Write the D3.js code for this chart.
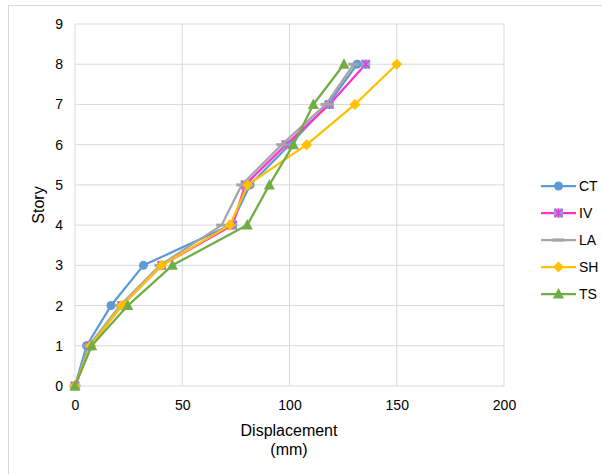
<!DOCTYPE html>
<html><head><meta charset="utf-8">
<script src="https://cdn.jsdelivr.net/npm/d3@7"></script>
<style>body{margin:0;background:#fff;font-family:Arial,"Liberation Sans",sans-serif;}</style>
</head><body><svg id="c" width="602" height="474"></svg>
<script>
const stories = [0,1,2,3,4,5,6,7,8];
const CT = [0,5.4,16.8,31.9,72.6,81.6,100,118,131.5];
const IV = [0,7,21.8,40.4,73.5,79.3,98.4,118.6,135.5];
const LA = [0,6.5,21,39.6,68.4,77.7,96.4,117,130];
const SH = [0,7.3,21.8,40.4,72.3,80.5,108,130.5,150];
const TS = [0,7.8,24.6,45.4,80.3,90.6,101.8,111.1,125.4];
const xTicks = [0,50,100,150,200];
const yTicks = [0,1,2,3,4,5,6,7,8,9];
const seriesNames = ["CT","IV","LA","SH","TS"];
const seriesColors = ["#5B9BD5","#FF33CC","#A5A5A5","#FFC000","#70AD47"];
const seriesData = [CT,IV,LA,SH,TS];

const svg = d3.select("#c");
const L=75,R=504,T=24,B=386;
const x = d3.scaleLinear().domain([0,200]).range([L,R]);
const y = d3.scaleLinear().domain([0,9]).range([B,T]);
const FONT = "Arial,'Liberation Sans',sans-serif";

svg.append("rect").attr("x",8.5).attr("y",5.5).attr("width",620).attr("height",500)
  .attr("fill","none").attr("stroke","#d9d9d9");

svg.append("g").selectAll("line").data(yTicks).join("line")
  .attr("x1",L).attr("x2",R).attr("y1",d=>y(d)).attr("y2",d=>y(d))
  .attr("stroke","#d9d9d9").attr("stroke-width",1);
svg.append("g").selectAll("line").data(xTicks).join("line")
  .attr("y1",T).attr("y2",B).attr("x1",d=>x(d)).attr("x2",d=>x(d))
  .attr("stroke","#d9d9d9").attr("stroke-width",1);

const xa = d3.axisBottom(x).tickValues(xTicks).tickSize(0).tickPadding(14);
svg.append("g").attr("transform",`translate(0,${B})`).call(xa)
  .call(g=>g.select(".domain").remove())
  .selectAll("text").attr("font-size","14px").attr("fill","#000").attr("font-family",FONT);
const ya = d3.axisLeft(y).tickValues(yTicks).tickSize(0).tickPadding(12);
svg.append("g").attr("transform",`translate(${L},0)`).call(ya)
  .call(g=>g.select(".domain").remove())
  .selectAll("text").attr("font-size","14px").attr("fill","#000").attr("font-family",FONT);

svg.append("text").attr("x",289).attr("y",436).attr("text-anchor","middle")
  .attr("font-size","16px").text("Displacement");
svg.append("text").attr("x",289).attr("y",455).attr("text-anchor","middle")
  .attr("font-size","16px").text("(mm)");
svg.append("text").attr("transform","translate(44,205) rotate(-90)").attr("text-anchor","middle")
  .attr("font-size","16px").text("Story");

function marker(g,name,color,cx,cy,legend){
  if(name==="CT"){
    g.append("circle").attr("cx",cx).attr("cy",cy).attr("r",4.5).attr("fill",color);
  } else if(name==="IV"){
    g.append("rect").attr("x",cx-4.5).attr("y",cy-4.5).attr("width",9).attr("height",9).attr("fill","#7FA9DC");
    g.append("path").attr("d",`M${cx-4},${cy-4}L${cx+4},${cy+4}M${cx-4},${cy+4}L${cx+4},${cy-4}M${cx},${cy-4.5}L${cx},${cy+4.5}`)
      .attr("stroke",color).attr("stroke-width",1.2);
  } else if(name==="LA"){
    if(!legend) g.append("rect").attr("x",cx-5.5).attr("y",cy-1.5).attr("width",11).attr("height",3).attr("fill",color);
    else g.append("rect").attr("x",cx-6).attr("y",cy-1.6).attr("width",12).attr("height",3.2).attr("fill",color);
  } else if(name==="SH"){
    g.append("path").attr("d",`M${cx},${cy-5.5}L${cx+5.5},${cy}L${cx},${cy+5.5}L${cx-5.5},${cy}Z`).attr("fill",color);
  } else if(name==="TS"){
    g.append("path").attr("d",`M${cx},${cy-6}L${cx+5.5},${cy+4.5}L${cx-5.5},${cy+4.5}Z`).attr("fill",color);
  }
}

const line = d3.line().x(d=>x(d[0])).y(d=>y(d[1]));
seriesNames.forEach((name,i)=>{
  const pts = seriesData[i].map((v,j)=>[v,stories[j]]);
  const g = svg.append("g");
  g.append("path").attr("d",line(pts)).attr("fill","none")
    .attr("stroke",seriesColors[i]).attr("stroke-width",2.25).attr("stroke-linejoin","round");
  pts.forEach(p=>marker(g,name,seriesColors[i],x(p[0]),y(p[1]),false));
  const ly = 186 + i*27;
  const lg = svg.append("g");
  lg.append("line").attr("x1",541).attr("x2",576).attr("y1",ly).attr("y2",ly)
    .attr("stroke",seriesColors[i]).attr("stroke-width",2.25);
  marker(lg,name,seriesColors[i],558.5,ly,true);
  lg.append("text").attr("x",579).attr("y",ly+5).attr("font-size","14px").attr("font-family",FONT).text(name);
});
</script></body></html>
